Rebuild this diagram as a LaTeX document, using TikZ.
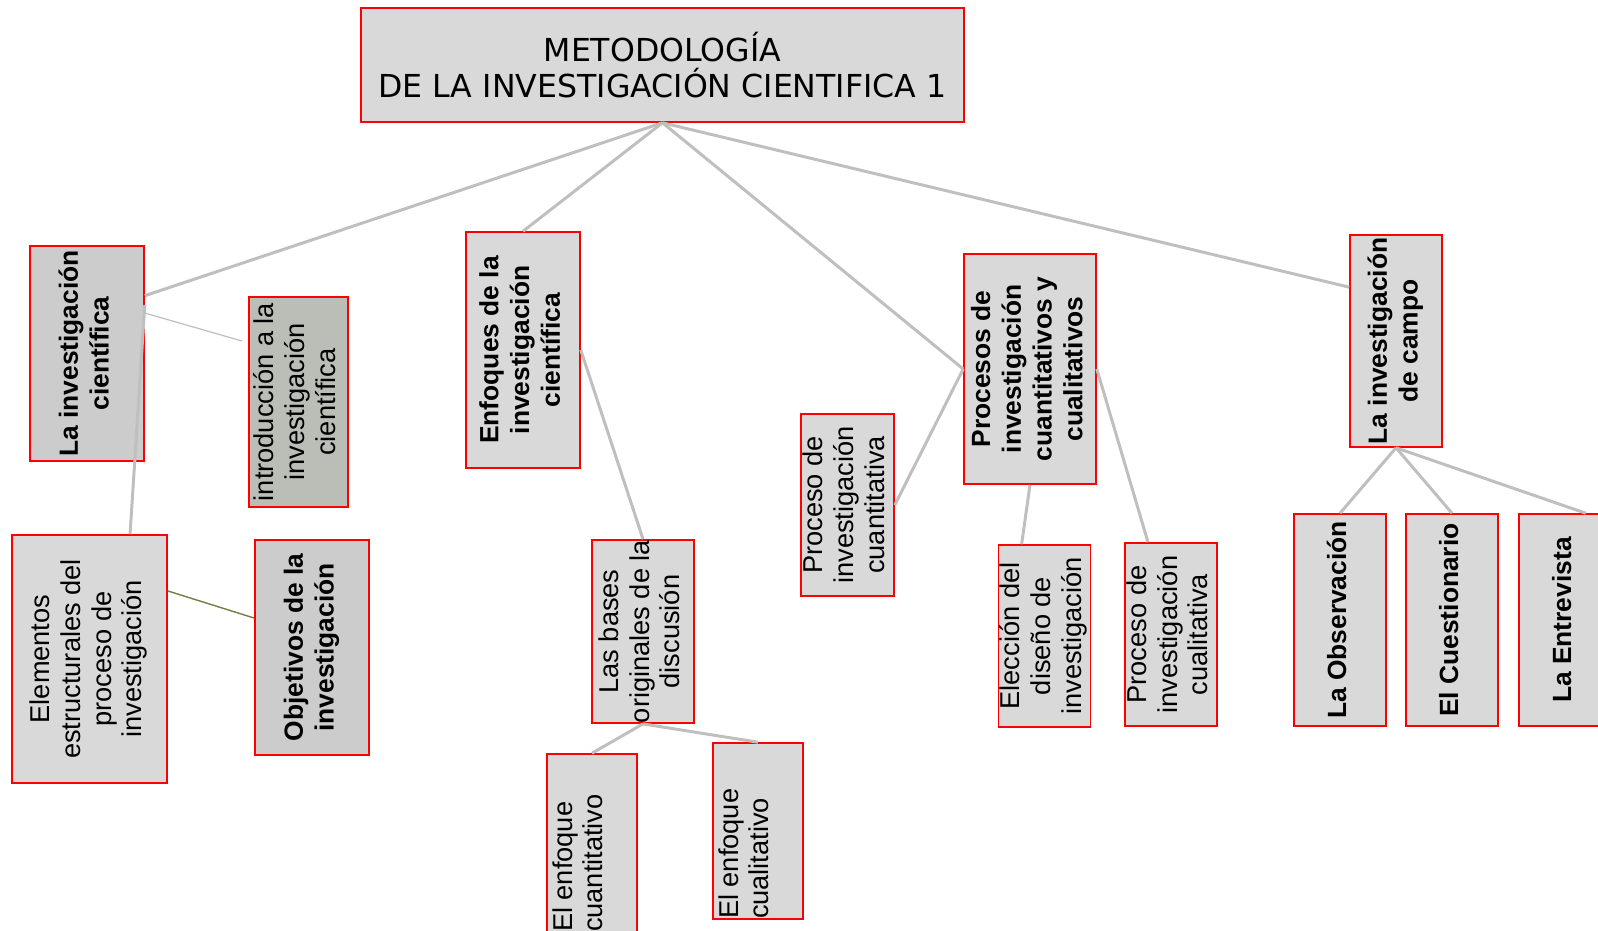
\documentclass[tikz,border=0pt]{standalone}
\usepackage{fontspec}
\setmainfont{Liberation Sans}
\newfontfamily\titlefont{DejaVu Sans}
\usepackage{xcolor}
\usepackage{graphicx}
\usepackage{tikz}

\definecolor{boxgray}{RGB}{217,217,217}
\definecolor{darkgray}{RGB}{204,204,204}
\definecolor{introgray}{RGB}{186,190,182}
\definecolor{linkgray}{RGB}{191,191,191}
\definecolor{olivelink}{RGB}{122,122,72}

\newcommand{\vtext}[1]{\rotatebox{90}{\begin{tabular}{@{}c@{}}#1\end{tabular}}}
\newcommand{\vtextleft}[3]{\rotatebox{90}{\parbox[c][#1][t]{#2}{\vspace{3pt}\raggedright #3}}}

\begin{document}
\begin{tikzpicture}[
    x=0.02cm, y=-0.02cm,
    box/.style={
        draw=red,
        line width=0.9pt,
        fill=boxgray,
        inner sep=0pt,
        font=\fontsize{15.5}{17.5}\selectfont
    },
    boxbold/.style={
        box,
        font=\fontsize{15}{17.5}\selectfont\bfseries
    },
    sz/.style 2 args={
        minimum width=#1*0.02cm,
        minimum height=#2*0.02cm
    },
    link/.style={
        draw=linkgray,
        line width=1.7pt
    }
]
\useasboundingbox (0,0) rectangle (1598,930);

% Title
\node[box, sz={603}{114}, align=center,
      font=\titlefont\fontsize{18}{20.5}\selectfont] (title) at (662.5,65)
     {METODOLOGÍA\\DE LA INVESTIGACIÓN CIENTIFICA 1};

% First branch
\node[boxbold, sz={114}{215}, fill=darkgray] (lic) at (87,353.5) {\vtext{La investigación\\científica}};
\node[box, sz={99}{210}, fill=introgray] (intro) at (298.5,402) {\vtext{introducción a la\\investigación\\científica}};
\node[box, sz={155}{248}] (elem) at (89.5,659) {\vtext{Elementos\\estructurales del\\proceso de\\investigación}};
\node[boxbold, sz={114}{215}, fill=darkgray] (obj) at (312,647.5) {\vtext{Objetivos de la\\investigación}};
\coordinate (introin) at (242,341);

% Second branch
\node[boxbold, sz={114}{236}] (enf) at (523,350) {\vtext{Enfoques de la\\investigación\\científica}};
\node[box, sz={102}{183}] (bases) at (643,631.5) {\vtext{Las bases\\originales de la\\discusión}};
\node[box, sz={90}{178}] (ecuant) at (592,843) {\vtextleft{1.8cm}{3.56cm}{El enfoque\\cuantitativo}};
\node[box, sz={90}{176}] (ecual) at (758,831) {\vtextleft{1.8cm}{3.52cm}{El enfoque\\cualitativo}};

% Third branch
\node[boxbold, sz={132}{230}] (procs) at (1030,369) {\vtext{Procesos de\\investigación\\cuantitativos y\\cualitativos}};
\node[box, sz={93}{182}] (pcuant) at (847.5,505) {\vtext{Proceso de\\investigación\\cuantitativa}};
\node[box, sz={91}{182}] (elecc) at (1044.5,636) {\vtext{Elección del\\diseño de\\investigación}};
\node[box, sz={92}{183}] (pcual) at (1171,634.5) {\vtext{Proceso de\\investigación\\cualitativa}};

% Fourth branch
\node[boxbold, sz={92}{212}] (campo) at (1396,341) {\vtext{La investigación\\de campo}};
\node[boxbold, sz={92}{212}] (obs) at (1340,620) {\vtext{La Observación}};
\node[boxbold, sz={92}{212}] (cuest) at (1452,620) {\vtext{El Cuestionario}};
\node[boxbold, sz={92}{212}] (entr) at (1565,620) {\vtext{La Entrevista}};

% Links
\draw[link] (title.south) -- (lic.45);
\draw[link] (title.south) -- (enf.north);
\draw[link] (title.south) -- (procs.west);
\draw[link] (title.south) -- (campo.131);

\draw[draw=linkgray, line width=0.7pt] (lic.35) -- (introin);
\draw[link] (lic.40) -- (elem.72);
\draw[draw=olivelink, line width=0.8pt] (elem.41) -- (obj.153);

\draw[link] (enf.east) -- (bases.north);
\draw[link] (bases.south) -- (ecuant.north);
\draw[link] (bases.south) -- (ecual.north);

\draw[link] (procs.west) -- (pcuant.east);
\draw[link] (procs.south) -- (elecc.104);
\draw[link] (procs.east) -- (pcual.104);

\draw[link] (campo.south) -- (obs.north);
\draw[link] (campo.south) -- (cuest.north);
\draw[link] (campo.south) -- (entr.79);

\end{tikzpicture}
\end{document}
